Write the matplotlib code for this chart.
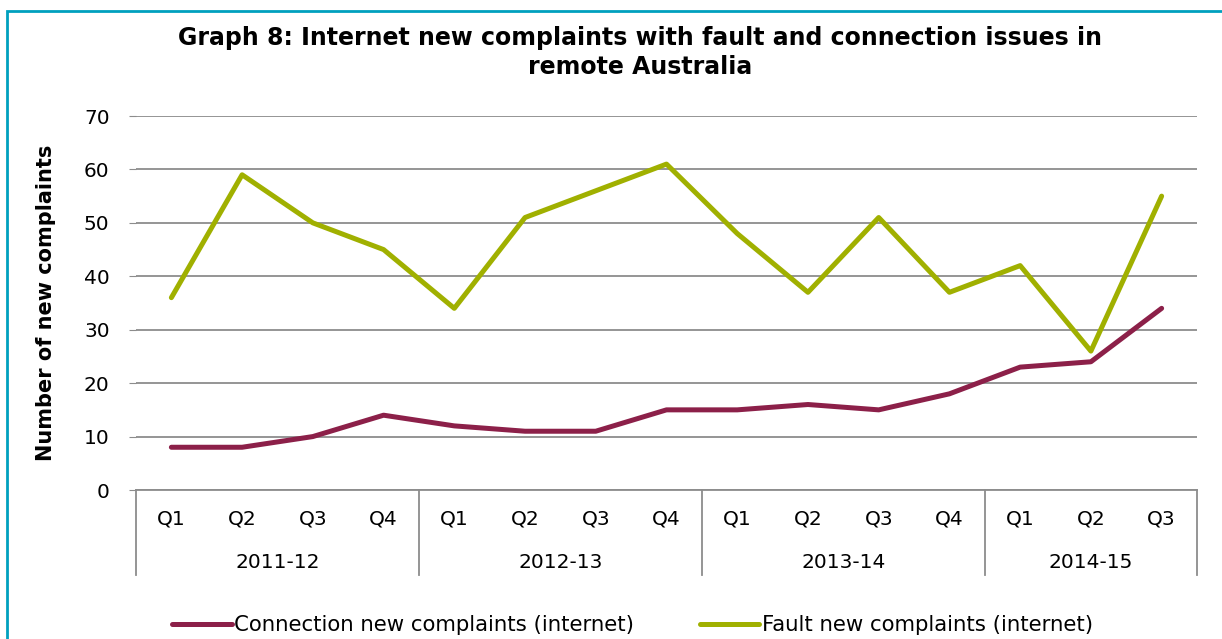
import matplotlib.pyplot as plt
from matplotlib.patches import Rectangle

quarters = ["Q1", "Q2", "Q3", "Q4", "Q1", "Q2", "Q3", "Q4",
            "Q1", "Q2", "Q3", "Q4", "Q1", "Q2", "Q3"]
years = ["2011-12", "2012-13", "2013-14", "2014-15"]
year_sizes = [4, 4, 4, 3]

connection = [8, 8, 10, 14, 12, 11, 11, 15, 15, 16, 15, 18, 23, 24, 34]
fault = [36, 59, 50, 45, 34, 51, 56, 61, 48, 37, 51, 37, 42, 26, 55]

CONN_COLOR = "#8c2049"
FAULT_COLOR = "#a0b000"
GRID_COLOR = "#8c8c8c"
FS = 14.5

plt.rcParams["font.family"] = ["DejaVu Sans"]

fig = plt.figure(figsize=(12.22, 6.39), dpi=100)
ax = fig.add_axes([136 / 1222, 1 - 490 / 639, (1197 - 136) / 1222, (490 - 116) / 639])

x = list(range(len(quarters)))
ax.plot(x, connection, color=CONN_COLOR, lw=3.6, solid_capstyle="round",
        label="Connection new complaints (internet)")
ax.plot(x, fault, color=FAULT_COLOR, lw=3.6, solid_capstyle="round",
        label="Fault new complaints (internet)")

ax.set_xlim(-0.5, len(quarters) - 0.5)
ax.set_ylim(0, 70)
ax.set_yticks(range(0, 71, 10))
ax.tick_params(axis="y", labelsize=FS, length=5, color=GRID_COLOR, pad=14)
ax.grid(axis="y", color=GRID_COLOR, lw=1.3)
ax.set_axisbelow(True)
for s in ["top", "right", "left"]:
    ax.spines[s].set_visible(False)
ax.spines["bottom"].set_color(GRID_COLOR)
ax.spines["bottom"].set_linewidth(1.3)

# multi-level category axis
ax.set_xticks([])
trans = ax.get_xaxis_transform()
for xi, q in zip(x, quarters):
    ax.text(xi, -0.078, q, transform=trans, ha="center", va="center", fontsize=FS)
start = 0
bounds = [-0.5]
for y, n in zip(years, year_sizes):
    mid = start + (n - 1) / 2
    ax.text(mid, -0.193, y, transform=trans, ha="center", va="center", fontsize=FS)
    start += n
    bounds.append(start - 0.5)
for b in bounds:
    ax.plot([b, b], [0, -0.227], transform=trans, color=GRID_COLOR, lw=1.3, clip_on=False)

ax.set_ylabel("Number of new complaints", fontsize=15, fontweight="bold", labelpad=20)

fig.text(0.524, 0.918, "Graph 8: Internet new complaints with fault and connection issues in\nremote Australia",
         ha="center", va="center", fontsize=17, fontweight="bold", linespacing=1.3)

ax.legend(loc="center", bbox_to_anchor=(0.468, -0.361), ncol=2, frameon=False, fontsize=15.3,
          handlelength=2.8, handletextpad=0.1, columnspacing=3.1)

fig.add_artist(Rectangle((7 / 1222, -0.1), 1.2, 1.1 - 11 / 639, transform=fig.transFigure,
                         fill=False, edgecolor="#00a0be", lw=2))

fig.savefig("out.png", dpi=100)
